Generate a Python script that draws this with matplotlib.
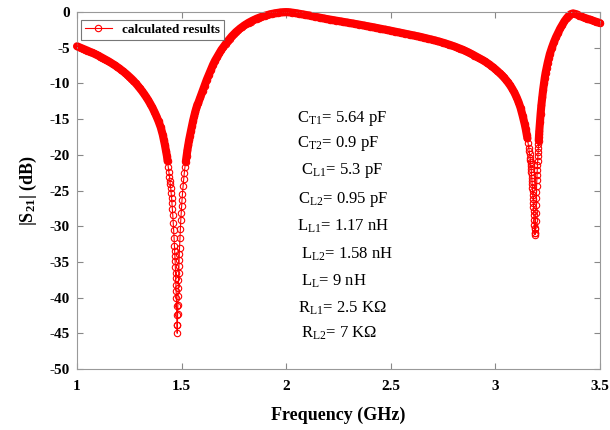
import numpy as np
import matplotlib
matplotlib.use("Agg")
import matplotlib.pyplot as plt

plt.rcParams['font.family'] = ['Liberation Serif', 'DejaVu Serif']
plt.rcParams['mathtext.fontset'] = 'custom'
plt.rcParams['mathtext.rm'] = 'Liberation Serif'
plt.rcParams['mathtext.it'] = 'Liberation Serif:italic'
plt.rcParams['mathtext.bf'] = 'Liberation Serif:bold'
plt.rcParams['axes.unicode_minus'] = False

# |S21|, split in segments (GHz, dB)
f_shoulder = [1.00, 1.01, 1.02, 1.03, 1.04, 1.05, 1.06, 1.07, 1.08, 1.09,
              1.10, 1.11, 1.12, 1.13, 1.14, 1.15, 1.16, 1.17, 1.18, 1.19,
              1.20, 1.21, 1.22, 1.23, 1.24, 1.25, 1.26, 1.27, 1.28, 1.29,
              1.30, 1.31, 1.32, 1.33, 1.34, 1.35, 1.36, 1.37, 1.38, 1.39,
              1.40, 1.41, 1.415, 1.42, 1.425]
s_shoulder = [-4.80, -4.92, -5.04, -5.16, -5.28, -5.41, -5.54, -5.67, -5.81, -5.95,
              -6.09, -6.24, -6.40, -6.56, -6.72, -6.89, -7.07, -7.25, -7.44, -7.64,
              -7.85, -8.07, -8.30, -8.54, -8.79, -9.05, -9.33, -9.62, -9.95, -10.30,
              -10.66, -11.04, -11.44, -11.87, -12.33, -12.83, -13.37, -13.96, -14.61, -15.33,
              -16.13, -17.2, -17.9, -18.6, -19.4]

f_notch1 = [1.430, 1.433, 1.436, 1.439, 1.442,
            1.444, 1.446, 1.448, 1.450, 1.452, 1.454, 1.456, 1.458, 1.460, 1.462, 1.464, 1.466,
            1.467, 1.468, 1.469, 1.470, 1.471, 1.472, 1.473, 1.474, 1.475, 1.476, 1.477, 1.478, 1.479,
            1.480, 1.481, 1.482, 1.483, 1.484, 1.485, 1.486, 1.487, 1.488, 1.489, 1.490,
            1.492, 1.494, 1.496, 1.498, 1.500, 1.502, 1.504,
            1.507, 1.510, 1.513, 1.516,
            1.520, 1.524, 1.528, 1.532, 1.536,
            1.540, 1.545, 1.550, 1.555, 1.560, 1.565, 1.570, 1.575, 1.580]
s_notch1 = [-20.2, -20.9, -21.7, -22.4, -23.1,
            -23.6, -24.1, -24.7, -25.3, -26.0, -26.8, -27.6, -28.5, -29.5, -30.5, -31.6, -32.8,
            -33.5, -34.2, -34.9, -35.7, -36.5, -37.3, -38.2, -39.1, -40.1, -41.2, -42.4, -43.8, -45.0,
            -43.9, -42.3, -41.0, -39.8, -38.7, -37.6, -36.6, -35.6, -34.7, -33.9, -33.1,
            -31.7, -30.4, -29.2, -28.2, -27.2, -26.3, -25.5,
            -24.4, -23.4, -22.5, -21.7,
            -21.0, -20.1, -19.3, -18.6, -17.9,
            -17.3, -16.6, -15.9, -15.2, -14.6, -14.0, -13.5, -13.0, -12.7]

f_rise = [1.59, 1.60, 1.61, 1.62, 1.63, 1.64, 1.65, 1.66, 1.67, 1.68,
          1.69, 1.70, 1.71, 1.72, 1.73, 1.74, 1.75, 1.76, 1.77, 1.78,
          1.79, 1.80, 1.81, 1.82, 1.83, 1.84, 1.85, 1.86, 1.87, 1.88,
          1.89, 1.90, 1.91, 1.92, 1.93, 1.94, 1.95, 1.96, 1.97, 1.98,
          1.99, 2.00]
s_rise = [-11.9, -11.1, -10.3, -9.5, -8.8, -8.1, -7.4, -6.8, -6.3, -5.8,
          -5.3, -4.9, -4.5, -4.1, -3.75, -3.4, -3.1, -2.8, -2.55, -2.3,
          -2.08, -1.87, -1.68, -1.50, -1.34, -1.19, -1.05, -0.92, -0.80, -0.69,
          -0.59, -0.50, -0.42, -0.34, -0.27, -0.21, -0.16, -0.11, -0.07, -0.04,
          -0.02, -0.01]

f_plateau = [2.01, 2.02, 2.03, 2.04, 2.05, 2.06, 2.07, 2.08, 2.09, 2.10,
             2.11, 2.12, 2.13, 2.14, 2.15, 2.16, 2.17, 2.18, 2.19, 2.20,
             2.21, 2.22, 2.23, 2.24, 2.25, 2.26, 2.27, 2.28, 2.29, 2.30,
             2.31, 2.32, 2.33, 2.34, 2.35, 2.36, 2.37, 2.38, 2.39, 2.40,
             2.41, 2.42, 2.43, 2.44, 2.45, 2.46, 2.47, 2.48, 2.49, 2.50,
             2.51, 2.52, 2.53, 2.54, 2.55, 2.56, 2.57, 2.58, 2.59, 2.60]
s_plateau = [-0.02, -0.05, -0.09, -0.13, -0.18, -0.23, -0.28, -0.33, -0.38, -0.43,
             -0.49, -0.55, -0.61, -0.67, -0.73, -0.79, -0.85, -0.91, -0.96, -1.01,
             -1.06, -1.11, -1.16, -1.21, -1.26, -1.31, -1.36, -1.41, -1.46, -1.51,
             -1.56, -1.61, -1.66, -1.72, -1.77, -1.83, -1.88, -1.94, -1.99, -2.05,
             -2.10, -2.16, -2.21, -2.27, -2.33, -2.39, -2.45, -2.50, -2.56, -2.62,
             -2.68, -2.74, -2.80, -2.86, -2.92, -2.98, -3.04, -3.10, -3.16, -3.22]

f_slope = [2.61, 2.62, 2.63, 2.64, 2.65, 2.66, 2.67, 2.68, 2.69, 2.70,
           2.71, 2.72, 2.73, 2.74, 2.75, 2.76, 2.77, 2.78, 2.79, 2.80,
           2.81, 2.82, 2.83, 2.84, 2.85, 2.86, 2.87, 2.88, 2.89, 2.90,
           2.91, 2.92, 2.93, 2.94, 2.95, 2.96, 2.97, 2.98, 2.99, 3.00,
           3.01, 3.02, 3.03, 3.04, 3.05, 3.06, 3.07, 3.08, 3.09, 3.10,
           3.11, 3.12, 3.13, 3.14, 3.145, 3.15, 3.153, 3.156, 3.16]
s_slope = [-3.28, -3.34, -3.41, -3.47, -3.54, -3.61, -3.68, -3.75, -3.82, -3.89,
           -3.97, -4.05, -4.13, -4.21, -4.30, -4.39, -4.48, -4.58, -4.68, -4.78,
           -4.89, -5.00, -5.12, -5.24, -5.37, -5.50, -5.64, -5.79, -5.94, -6.10,
           -6.26, -6.42, -6.58, -6.75, -6.93, -7.12, -7.32, -7.54, -7.77, -8.01,
           -8.27, -8.54, -8.83, -9.14, -9.48, -9.85, -10.26, -10.72, -11.25, -11.85,
           -12.55, -13.4, -14.5, -15.7, -16.4, -17.2, -17.7, -18.3, -19.0]

f_notch2 = [3.162, 3.164, 3.166, 3.167, 3.168, 3.169, 3.170, 3.171, 3.172, 3.173, 3.174,
            3.175, 3.176, 3.177, 3.178, 3.179, 3.180, 3.181, 3.182, 3.183, 3.184,
            3.185, 3.186, 3.187, 3.188, 3.189, 3.190, 3.191, 3.192, 3.193, 3.194,
            3.195, 3.196, 3.197, 3.198, 3.199, 3.200,
            3.201, 3.202, 3.203, 3.204, 3.205, 3.206, 3.207, 3.208, 3.209, 3.210,
            3.213, 3.216, 3.220, 3.224, 3.228,
            3.232, 3.236, 3.240, 3.245, 3.250, 3.255]
s_notch2 = [-19.4, -19.9, -20.4, -20.7, -21.0, -21.3, -21.6, -22.0, -22.4, -22.8, -23.2,
            -23.7, -24.1, -24.6, -25.1, -25.6, -26.2, -26.7, -27.3, -27.9, -28.5,
            -29.2, -29.8, -30.4, -30.9, -31.2, -31.0, -30.3, -29.3, -28.2, -27.1,
            -26.1, -25.2, -24.3, -23.5, -22.8, -22.1,
            -21.4, -20.8, -20.2, -19.6, -19.0, -18.5, -18.0, -17.5, -17.05, -16.6,
            -15.4, -14.3, -13.0, -11.9, -10.9,
            -10.0, -9.2, -8.5, -7.8, -7.1, -6.5]

f_tail = [3.26, 3.27, 3.28, 3.29, 3.30, 3.31, 3.32, 3.33, 3.34, 3.35,
          3.36, 3.37, 3.38, 3.39, 3.40, 3.41, 3.42, 3.43, 3.44, 3.45,
          3.46, 3.47, 3.48, 3.49, 3.50]
s_tail = [-5.9, -5.0, -4.2, -3.5, -2.9, -2.3, -1.8, -1.3, -0.9, -0.55,
          -0.3, -0.2, -0.25, -0.35, -0.5, -0.6, -0.75, -0.85, -0.95, -1.05,
          -1.15, -1.25, -1.35, -1.45, -1.55]

freq = np.concatenate([f_shoulder, f_notch1, f_rise, f_plateau, f_slope, f_notch2, f_tail])
s21 = np.concatenate([s_shoulder, s_notch1, s_rise, s_plateau, s_slope, s_notch2, s_tail])

params = [r'C$_{\mathrm{T1}}$= 5.64 pF', r'C$_{\mathrm{T2}}$= 0.9 pF',
          r'C$_{\mathrm{L1}}$= 5.3 pF', r'C$_{\mathrm{L2}}$= 0.95 pF',
          r'L$_{\mathrm{L1}}$= 1.17 nH', r'L$_{\mathrm{L2}}$= 1.58 nH',
          r'L$_{\mathrm{L}}$= 9 nH', r'R$_{\mathrm{L1}}$= 2.5 KΩ',
          r'R$_{\mathrm{L2}}$= 7 KΩ']

fig = plt.figure(figsize=(6.1, 4.3), dpi=100)
ax = fig.add_axes([77/610, 1 - 369/430, 523/610, 357/430])

# the original sweep is so dense that the markers merge into a solid band
# outside the deep notches -> thick line there, open circles everywhere
cut = np.where(freq < 2.5, -21, -18)
band = np.where(s21 >= cut, s21, np.nan)
ax.plot(freq, band, '-', color='red', lw=5.8, solid_capstyle='round',
        solid_joinstyle='round', clip_on=False, zorder=2)
ax.plot(freq, s21, '-o', color='red', lw=0.8, ms=4.6, mfc='none', mew=0.8,
        label='calculated results', clip_on=False, zorder=3)

# parameter list in the middle of the plot
px = [2.054, 2.054, 2.070, 2.057, 2.054, 2.070, 2.070, 2.057, 2.070]
py = [-14.9, -18.4, -22.2, -26.3, -30.0, -33.9, -37.7, -41.5, -45.0]
for x, y, t in zip(px, py, params):
    ax.text(x, y, t, fontsize=12, va='center', ha='left')

ax.set_xlim(1, 3.5); ax.set_ylim(-50, 0)
ax.set_xticks([1, 1.5, 2, 2.5, 3, 3.5])
ax.set_xticklabels(['1', '1.5', '2', '2.5', '3', '3.5'])
ax.set_yticks(np.arange(-50, 1, 5))
ax.tick_params(direction='in', top=True, right=True, length=4, width=0.8,
               color='#888888', labelsize=11, pad=5)
ax.tick_params(axis='x', pad=8)
for lab in ax.get_xticklabels() + ax.get_yticklabels():
    lab.set_fontweight('bold')
for sp in ax.spines.values():
    sp.set_color('#999999'); sp.set_linewidth(0.8)

ax.set_xlabel('Frequency (GHz)', fontsize=13, fontweight='bold', labelpad=10)
ax.set_ylabel(r'|S$_{\mathbf{21}}$| (dB)', fontsize=13, fontweight='bold', labelpad=8)

leg = ax.legend(loc='upper left', bbox_to_anchor=(0.008, 0.978), borderaxespad=0,
                fancybox=False, edgecolor='#555555', handlelength=2.0,
                prop={'weight': 'bold', 'size': 9.5}, borderpad=0.3)
leg.get_frame().set_linewidth(0.8)
leg.set_zorder(5)

fig.savefig('out.png', dpi=100)
